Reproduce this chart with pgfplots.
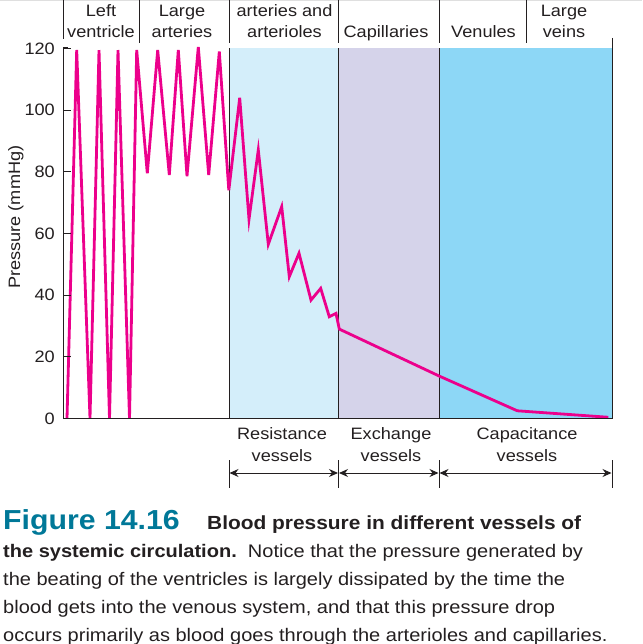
\documentclass[border=0pt]{standalone}
\usepackage{pgfplots}
\pgfplotsset{compat=1.18}
\usepackage{fontspec}
\setmainfont{Liberation Sans}[FakeStretch=1.1]
\usetikzlibrary{arrows.meta}
\definecolor{resist}{RGB}{212,238,250}
\definecolor{exch}{RGB}{213,211,234}
\definecolor{capac}{RGB}{141,215,246}
\definecolor{bp}{RGB}{236,0,140}
\definecolor{txt}{RGB}{35,31,32}
\definecolor{figteal}{RGB}{0,120,152}
\newcommand{\lab}{\fontsize{16.5pt}{19pt}\selectfont}
\newcommand{\capf}{\fontsize{18.2pt}{28pt}\selectfont}
\begin{document}
\begin{tikzpicture}
\path[use as bounding box] (0pt,0pt) rectangle (642pt,-644pt);
\begin{axis}[
  at={(63pt,-418.5pt)}, anchor=south west,
  scale only axis, width=549pt, height=370pt,
  xmin=63, xmax=612, ymin=0, ymax=120,
  axis lines=left, axis line style={-, line width=1pt, txt},
  xtick=\empty, ytick={0,20,...,120},
  tick align=inside, major tick length=8pt, tick style={line width=1pt, txt},
  yticklabel style={font=\lab, text=txt, inner sep=0pt, xshift=-8pt},
  /pgf/number format/assume math mode=true,
  clip=false,
  axis on top,
]
\addplot[fill=resist, draw=none] coordinates {(229,120)(338,120)} \closedcycle;
\addplot[fill=exch, draw=none] coordinates {(338,120)(439,120)} \closedcycle;
\addplot[fill=capac, draw=none] coordinates {(439,120)(612,120)} \closedcycle;
\draw[txt, line width=1pt] (axis cs:229,0) -- (axis cs:229,120);
\draw[txt, line width=1pt] (axis cs:338.5,0) -- (axis cs:338.5,120);
\draw[txt, line width=1pt] (axis cs:439,0) -- (axis cs:439,120);
\addplot[bp, line width=2.8pt, line join=miter, mark=none] coordinates {
(67,0)(76.7,119.5)(90,0)(99,119.5)(109.5,0)(118,119.5)(129.5,0)(136.7,119.5)
(147.3,79.5)(157.7,119.5)(169.3,79)(178.3,119.5)(187,78.6)(198.3,120.5)
(208.7,79)(219.3,119)(228.8,74)(239.7,104)(249,64.6)(258.3,87.1)
(268.3,56.5)(281.7,68.7)(289.3,46)(299,53.6)(311,38.4)(320.7,42.2)
(329.3,33)(336,34.1)(339.3,29)(439,13.8)(517.3,2.5)(608.3,0.4)
};
\end{axis}
\begin{scope}[x=1pt,y=-1pt]
\draw[gray!25, line width=1pt] (0,0.5) -- (642,0.5);
\draw[txt, line width=1pt] (612,38) -- (612,418.5);
\draw[txt, line width=2pt] (63,48.5) -- (68,48.5);
\foreach \xx/\yb in {63/39,139/43,229/43,338.5/43,439/43,526/43}
  \draw[txt, line width=1pt] (\xx,0) -- (\xx,\yb);
\begin{scope}[every node/.style={inner sep=0pt, anchor=base, text=txt, font=\lab}]
\node at (101,17) {Left};
\node at (101,38) {ventricle};
\node at (182,17) {Large};
\node at (182,38) {arteries};
\node at (284.5,17) {arteries and};
\node at (284.5,38) {arterioles};
\node at (386,38) {Capillaries};
\node at (483.5,38) {Venules};
\node at (564,17) {Large};
\node at (564,38) {veins};
\node at (282,439) {Resistance};
\node at (282,461) {vessels};
\node at (391,439) {Exchange};
\node at (391,461) {vessels};
\node at (527,439) {Capacitance};
\node at (527,461) {vessels};
\node[rotate=90, anchor=base west] at (20,289) {Pressure (mmHg)};
\end{scope}
\foreach \xx in {229,338.5,439,612}
  \draw[txt, line width=1pt] (\xx,460) -- (\xx,488);
\foreach \xa/\xb in {229/338.5,338.5/439,439/612}
  \draw[txt, line width=1pt, {Stealth[length=9pt,width=8pt]}-{Stealth[length=9pt,width=8pt]}] (\xa+0.5,473) -- (\xb-0.5,473);
\begin{scope}[every node/.style={inner sep=0pt, anchor=base west, text=txt, font=\capf}]
\node[text=figteal, font=\fontsize{27.5pt}{30pt}\selectfont\bfseries] at (3,529) {Figure 14.16};
\node[font=\fontsize{19pt}{28pt}\selectfont\bfseries] at (207,529) {Blood pressure in different vessels of};
\node at (3,557) {\textbf{the systemic circulation.}\ \ Notice that the pressure generated by};
\node at (3,585) {the beating of the ventricles is largely dissipated by the time the};
\node at (3,613) {blood gets into the venous system, and that this pressure drop};
\node at (3,641) {occurs primarily as blood goes through the arterioles and capillaries.};
\end{scope}
\end{scope}
\end{tikzpicture}
\end{document}
